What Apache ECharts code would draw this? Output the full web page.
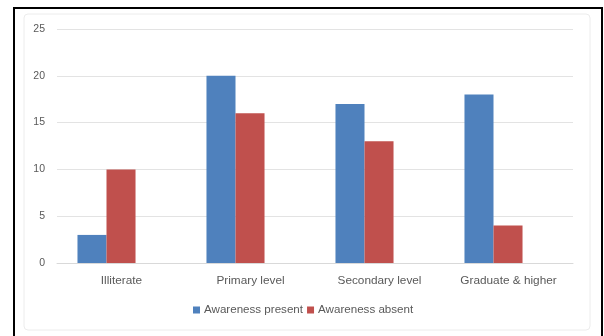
<!DOCTYPE html>
<html>
<head>
<meta charset="utf-8">
<script src="https://cdn.jsdelivr.net/npm/echarts@6/dist/echarts.min.js"></script>
<style>
  html, body { margin: 0; padding: 0; background: #fff; }
  #chart { width: 604px; height: 336px; }
</style>
</head>
<body>
<div id="chart"></div>
<script>
// Awareness by education level
const categories = ['Illiterate', 'Primary level', 'Secondary level', 'Graduate & higher'];
const awarenessPresent = [3, 20, 17, 18];
const awarenessAbsent = [10, 16, 13, 4];
const seriesNames = ['Awareness present', 'Awareness absent'];
const yTicks = { min: 0, max: 25, interval: 5 };

const textColor = '#595959';
const fontFamily = '"Liberation Sans", Arial, sans-serif';

const chart = echarts.init(document.getElementById('chart'), null, { renderer: 'canvas' });
chart.setOption({
  animation: false,
  backgroundColor: '#ffffff',
  textStyle: { fontFamily: fontFamily, color: textColor },
  graphic: [
    {
      type: 'rect', z: -10, silent: true,
      shape: { x: 24, y: 14, width: 566, height: 316, r: 4 },
      style: { fill: '#ffffff', stroke: '#ececec', lineWidth: 1 }
    },
    {
      type: 'rect', z: 100, silent: true,
      shape: { x: 14, y: 8, width: 588, height: 340 },
      style: { fill: null, stroke: '#000000', lineWidth: 2 }
    }
  ],
  color: ['#4F81BD', '#C0504D'],
  // grid 0: plot frame with gridlines, axis line and labels
  // grid 1: the bar clusters, which sit a little left of their labels
  grid: [
    { left: 57, right: 31, top: 29, bottom: 73, containLabel: false },
    { left: 42, right: 46, top: 29, bottom: 73, containLabel: false }
  ],
  legend: {
    data: seriesNames,
    top: 304,
    left: 193,
    padding: 0,
    itemWidth: 7,
    itemHeight: 7,
    itemGap: 4,
    icon: 'rect',
    textStyle: { fontSize: 11.6, color: textColor, fontFamily: fontFamily, padding: [0, 0, 0, -1] }
  },
  xAxis: [
    {
      type: 'category',
      gridIndex: 0,
      data: categories,
      axisLine: { show: true, lineStyle: { color: '#d9d9d9', width: 1 } },
      axisTick: { show: false },
      axisLabel: { fontSize: 11.8, color: textColor, margin: 12, fontFamily: fontFamily }
    },
    {
      type: 'category',
      gridIndex: 1,
      data: categories,
      axisLine: { show: false },
      axisTick: { show: false },
      axisLabel: { show: false }
    }
  ],
  yAxis: [
    {
      type: 'value',
      gridIndex: 0,
      min: yTicks.min,
      max: yTicks.max,
      interval: yTicks.interval,
      axisLine: { show: false },
      axisTick: { show: false },
      axisLabel: { fontSize: 10.5, color: textColor, margin: 12, fontFamily: fontFamily },
      splitLine: { lineStyle: { color: '#e3e3e3', width: 1 } }
    },
    {
      type: 'value',
      gridIndex: 1,
      min: yTicks.min,
      max: yTicks.max,
      interval: yTicks.interval,
      axisLine: { show: false },
      axisTick: { show: false },
      axisLabel: { show: false },
      splitLine: { show: false }
    }
  ],
  series: [
    {
      name: seriesNames[0],
      type: 'bar',
      xAxisIndex: 1,
      yAxisIndex: 1,
      data: awarenessPresent,
      barGap: '0%',
      barCategoryGap: '55%'
    },
    {
      name: seriesNames[1],
      type: 'bar',
      xAxisIndex: 1,
      yAxisIndex: 1,
      data: awarenessAbsent,
      barGap: '0%',
      barCategoryGap: '55%'
    }
  ]
});
</script>
</body>
</html>
